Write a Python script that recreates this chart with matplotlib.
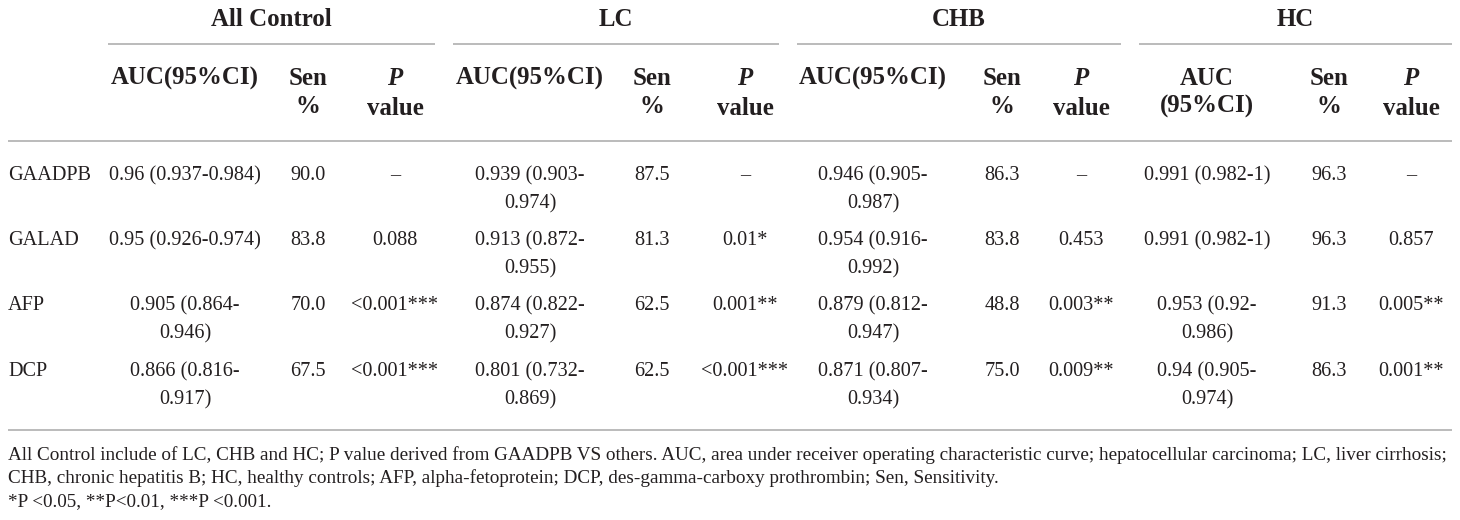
import matplotlib
matplotlib.use("Agg")
import matplotlib.pyplot as plt

plt.rcParams['font.family'] = ['Liberation Serif', 'DejaVu Serif']

groups = ["All Control", "LC", "CHB", "HC"]
markers = ["GAADPB", "GALAD", "AFP", "DCP"]

auc = [
    ["0.96 (0.937-0.984)", "0.939 (0.903-\n0.974)", "0.946 (0.905-\n0.987)", "0.991 (0.982-1)"],
    ["0.95 (0.926-0.974)", "0.913 (0.872-\n0.955)", "0.954 (0.916-\n0.992)", "0.991 (0.982-1)"],
    ["0.905 (0.864-\n0.946)", "0.874 (0.822-\n0.927)", "0.879 (0.812-\n0.947)", "0.953 (0.92-\n0.986)"],
    ["0.866 (0.816-\n0.917)", "0.801 (0.732-\n0.869)", "0.871 (0.807-\n0.934)", "0.94 (0.905-\n0.974)"],
]
sen = [
    ["90.0", "87.5", "86.3", "96.3"],
    ["83.8", "81.3", "83.8", "96.3"],
    ["70.0", "62.5", "48.8", "91.3"],
    ["67.5", "62.5", "75.0", "86.3"],
]
pval = [
    ["–", "–", "–", "–"],
    ["0.088", "0.01*", "0.453", "0.857"],
    ["<0.001***", "0.001**", "0.003**", "0.005**"],
    ["<0.001***", "<0.001***", "0.009**", "0.001**"],
]
auc_head = ["AUC(95%CI)", "AUC(95%CI)", "AUC(95%CI)", "AUC\n(95%CI)"]

notes = [
    "All Control include of LC, CHB and HC; P value derived from GAADPB VS others. AUC, area under receiver operating characteristic curve; hepatocellular carcinoma; LC, liver cirrhosis;",
    "CHB, chronic hepatitis B; HC, healthy controls; AFP, alpha-fetoprotein; DCP, des-gamma-carboxy prothrombin; Sen, Sensitivity.",
    "*P <0.05, **P<0.01, ***P <0.001.",
]

# layout (pixels, y down)
grp_span = [(108, 435), (453, 779), (797, 1121), (1139, 1452)]
col_x = [(185, 308, 395), (530, 652, 745), (873, 1002, 1081), (1207, 1329, 1411)]
row_y = [173, 238, 303, 369]
line_gap = 28
ink = "#231f20"
rule_c = "#b5b5b5"
fs_head = 17.9
fs_body = 14.6
fs_note = 13.8

fig = plt.figure(figsize=(14.6, 5.2), dpi=100)
ax = fig.add_axes([0, 0, 1, 1])
ax.set_xlim(0, 1460)
ax.set_ylim(520, 0)
ax.axis('off')

def cell(x, y, s, fs, off, **kw):
    for k, part in enumerate(s.split("\n")):
        ax.text(x, y + k * line_gap + off, part, fontsize=fs, ha='center',
                va='baseline', color=ink, **kw)

# group headers
for g, (a, b) in zip(groups, grp_span):
    ax.text((a + b) / 2, 18 + 8, g, fontsize=fs_head, fontweight='bold',
            ha='center', va='baseline', color=ink)
    ax.hlines(44, a, b, color=rule_c, lw=1.3)

# sub headers
for i in range(4):
    xa, xs, xp = col_x[i]
    cell(xa, 77, auc_head[i], fs_head, 8, fontweight='bold')
    cell(xs, 77, "Sen\n%", fs_head, 8, fontweight='bold')
    ax.text(xp, 77 + 8, "P", fontsize=fs_head, fontweight='bold', style='italic',
            ha='center', va='baseline', color=ink)
    ax.text(xp, 77 + 8 + 30, "value", fontsize=fs_head, fontweight='bold',
            ha='center', va='baseline', color=ink)

ax.hlines(140.5, 8, 1452, color=rule_c, lw=1.3)

# body
for r, m in enumerate(markers):
    y = row_y[r]
    ax.text(8, y + 7, m, fontsize=fs_body, ha='left', va='baseline', color=ink)
    for i in range(4):
        xa, xs, xp = col_x[i]
        cell(xa, y, auc[r][i], fs_body, 7)
        cell(xs, y, sen[r][i], fs_body, 7)
        cell(xp, y, pval[r][i], fs_body, 7)

ax.hlines(430, 8, 1452, color=rule_c, lw=1.3)

for k, t in enumerate(notes):
    ax.text(8, 454 + 23 * k + 6, t, fontsize=fs_note, ha='left', va='baseline', color=ink)

fig.savefig("out.png", dpi=100)
